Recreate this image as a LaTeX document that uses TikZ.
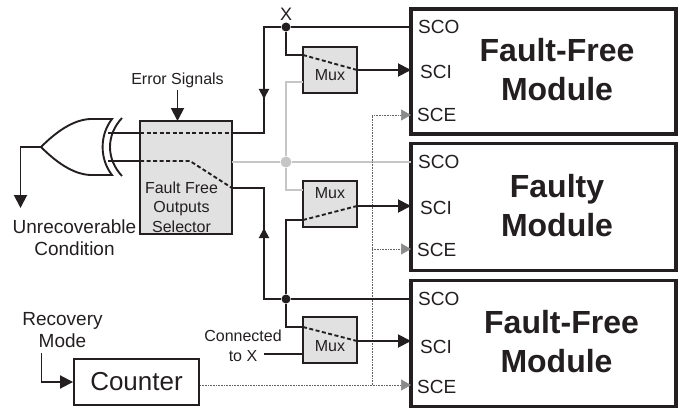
\documentclass[tikz,border=0pt]{standalone}
\usepackage{fontspec}
\setmainfont{Liberation Sans}
\usetikzlibrary{arrows.meta,positioning,calc}
\definecolor{ink}     {HTML}{231F20}
\definecolor{boxgray} {HTML}{E1E1E1}
\definecolor{wiregray}{HTML}{C6C6C6}
\definecolor{tipgray} {HTML}{8A8A8A}
\tikzset{
  wire/.style={ink,line width=1.9pt},
  sigarrow/.style={wire,-{Triangle[length=13pt,width=13pt]}},
  midarrow/.style={wire,-{Triangle[length=10pt,width=10pt]}},
  graywire/.style={wiregray,line width=1.9pt},
  dotwire/.style={ink!70,line width=0.6pt,densely dotted},
  dashwire/.style={ink,line width=1.9pt,dash pattern=on 4pt off 2.5pt},
  grayarrow/.style={dotwire,-{Triangle[length=10pt,width=11pt,color=tipgray]}},
  modulebox/.style={draw=ink,line width=3.3pt,fill=white,minimum width=265pt,inner sep=0pt,outer sep=0pt},
  muxbox/.style={draw=ink,line width=1.9pt,fill=boxgray,minimum width=54pt,minimum height=46pt,inner sep=0pt,outer sep=0pt},
  portlabel/.style={anchor=west,inner sep=0pt,text=ink,font=\fontsize{19}{20}\selectfont},
  title/.style={text=ink,align=center,inner sep=0pt,font=\fontsize{32}{39}\selectfont\bfseries},
  note/.style={text=ink,align=center,inner sep=0pt,font=\fontsize{16}{20}\selectfont},
  bignote/.style={text=ink,align=center,inner sep=0pt,font=\fontsize{19}{22}\selectfont},
  blackdot/.style={circle,fill=ink,minimum size=9pt,inner sep=0pt},
  graydot/.style={circle,fill=wiregray,minimum size=11pt,inner sep=0pt}
}
\begin{document}
\begin{tikzpicture}[x=1pt,y=-1pt]
  \useasboundingbox (0,0) rectangle (683,412);
  % modules
  \node[modulebox,minimum height=125pt] (fftop) at (543.5,71.6) {};
  \node[modulebox,minimum height=127pt] (fault) at (543.5,207) {};
  \node[modulebox,minimum height=125.6pt] (ffbot) at (543.5,343.5) {};
  \node[title] (fftoptext) at (557,69.5) {Fault-Free\\Module};
  \node[title] (faulttext) at (557,205.5) {Faulty\\Module};
  \node[title] (ffbottext) at (559,341.5) {\hspace*{5pt}Fault-Free\\\hspace*{-5pt}Module};
  \foreach \m/\a/\b/\c in {top/27/72/115,mid/162/208/250,bot/299/347/387} {
    \node[portlabel] (sco\m) at (418,\a) {SCO};
    \node[portlabel] (sci\m) at (420,\b) {SCI};
    \node[portlabel] (sce\m) at (417,\c) {SCE};
  }
  % selector and muxes
  \node[muxbox,minimum width=92pt,minimum height=113pt] (sel) at (186,177.5) {};
  \node[note,font=\fontsize{16}{19.5}\selectfont] (seltext) at (181.5,207) {Fault Free\\Outputs\\Selector};
  \node[muxbox] (muxa) at (330,70) {};
  \node[muxbox] (muxb) at (330,204) {};
  \node[muxbox] (muxc) at (330,340) {};
  \node[note] (muxatext) at (330,75) {Mux};
  \node[note] (muxbtext) at (330,193) {Mux};
  \node[note] (muxctext) at (330,346) {Mux};
  % xor gate
  \coordinate (xortip) at (41,147);
  \draw[wire,fill=white] (xortip) .. controls (55,133) and (72,120) .. (90,119) -- (112,119)
    .. controls (99.5,135) and (99.5,159) .. (112,175) -- (90,175)
    .. controls (72,174) and (55,161) .. (xortip);
  \draw[wire] (122,118) .. controls (106,135) and (106,159) .. (122,176);
  % gray lines
  \node[graydot] (jgray) at (286,162) {};
  \draw[graywire] (sel.east |- jgray) -- (jgray) -- (fault.west |- jgray);
  \draw[graywire] (jgray) -- (286,82) -- (muxa.west |- 0,82);
  \draw[graywire] (jgray) -- (286,190) -- (muxb.west |- 0,190);
  % dotted enable lines
  \node[draw=ink,line width=1.9pt,fill=white,minimum width=125pt,minimum height=46pt,inner sep=0pt,font=\fontsize{26}{28}\selectfont,text=ink] (counter) at (136.5,382) {Counter};
  \coordinate (jdota) at (372,249);
  \coordinate (jdotb) at (372,385);
  \draw[grayarrow] (counter.east |- jdotb) -- (ffbot.west |- jdotb);
  \draw[grayarrow] (jdota) -- (fault.west |- jdota);
  \draw[grayarrow] (jdotb) -- (372,115) -- (fftop.west |- 0,115);
  % upper outputs
  \node[blackdot] (jx) at (286,27) {};
  \node[blackdot] (jbot) at (286,299) {};
  \draw[wire] (108,133) -- (sel.west |- 0,133);
  \draw[wire] (108,161) -- (sel.west |- 0,161);
  \draw[dashwire] (sel.west |- 0,133) -- (sel.east |- 0,133);
  \draw[dashwire] (sel.west |- 0,161) -- (190,161) -- (sel.east |- 0,188);
  \draw[wire] (sel.east |- 0,133) -- (264,133) -- (264,27) -- (jx) -- (fftop.west |- jx);
  \draw[midarrow] (264,60) -- (264,99);
  \draw[wire] (sel.east |- 0,188) -- (264,188) -- (264,299) -- (jbot) -- (ffbot.west |- jbot);
  \draw[midarrow] (264,270) -- (264,228);
  \draw[wire] (jx) -- (286,55) -- (muxa.west |- 0,55);
  \draw[wire] (jbot) -- (286,220) -- (muxb.west |- 0,220);
  \draw[wire] (jbot) -- (286,327) -- (muxc.west |- 0,327);
  \draw[wire] (264,354) -- (muxc.west |- 0,354);
  % through the muxes
  \draw[dashwire] (muxa.west |- 0,55) -- (muxa.east |- 0,70);
  \draw[dashwire] (muxb.west |- 0,220) -- (muxb.east |- 0,206);
  \draw[dashwire] (muxc.west |- 0,327) -- (muxc.east |- 0,341);
  \draw[sigarrow] (muxa.east |- 0,70) -- (fftop.west |- 0,70);
  \draw[sigarrow] (muxb.east |- 0,206) -- (fault.west |- 0,206);
  \draw[sigarrow] (muxc.east |- 0,341) -- (ffbot.west |- 0,341);
  % labels and free ends
  \node[text=ink,inner sep=0pt,font=\fontsize{18}{20}\selectfont] (xlabel) at (286,14) {X};
  \node[note] (errtext) at (177.5,80) {Error Signals};
  \draw[sigarrow] (errtext.south) ++(0,2) -- (sel.north -| errtext);
  \node[bignote] (unrec) at (74.5,238) {Unrecoverable\\Condition};
  \coordinate (xorout) at (20.5,147);
  \draw[sigarrow] (xortip) -- (xorout) -- (20.5,208);
  \node[note] (conn) at (243,345.5) {Connected\\to X};
  \node[bignote] (rectext) at (62.5,330.5) {Recovery\\Mode};
  \coordinate (recin) at (41.5,353);
  \draw[sigarrow] (recin) -- (41.5,382) -- (counter.west);
\end{tikzpicture}
\end{document}
